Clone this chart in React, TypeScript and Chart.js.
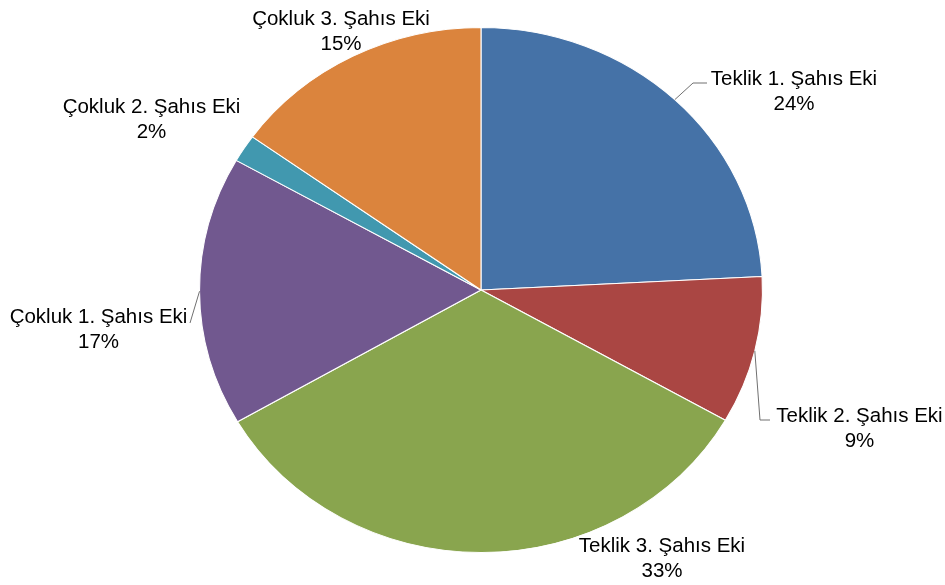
import React, { useEffect, useRef } from "react";
import { Chart, registerables } from "chart.js";

Chart.register(...registerables);

const categories = [
  "Teklik 1. Şahıs Eki",
  "Teklik 2. Şahıs Eki",
  "Teklik 3. Şahıs Eki",
  "Çokluk 1. Şahıs Eki",
  "Çokluk 2. Şahıs Eki",
  "Çokluk 3. Şahıs Eki",
];
const shares = [24.2, 9.1, 33.4, 16.6, 1.7, 15.1];
const colors = ["#4572A7", "#AA4643", "#89A54E", "#71588F", "#4198AF", "#DB843D"];

// label anchors (centre of text, first baseline) relative to pie centre, in px
const labelOffsets = [
  [313, -205],
  [378.5, 132],
  [181, 262],
  [-382.5, 33],
  [-329.5, -177],
  [-140, -265],
];
// leader line points (after the arc-edge start) relative to pie centre
const leaderPoints: number[][][] = [
  [[212, -207], [226, -207]],
  [[279, 130], [289, 130]],
  [],
  [[-291, 33]],
  [],
  [],
];

const SX = 282 / 263;
const FONT = '20.5px "Liberation Sans", Arial, sans-serif';
const LINE_GAP = 25;

const ellipsePlugin = {
  id: "ellipse",
  beforeDatasetsDraw(chart: any) {
    const meta = chart.getDatasetMeta(0);
    const cx = meta.data[0].x;
    const ctx = chart.ctx;
    ctx.save();
    ctx.translate(cx, 0);
    ctx.scale(SX, 1);
    ctx.translate(-cx, 0);
  },
  afterDatasetsDraw(chart: any) {
    chart.ctx.restore();
  },
};

const labelPlugin = {
  id: "pieLabels",
  afterDraw(chart: any) {
    const ctx = chart.ctx;
    const meta = chart.getDatasetMeta(0);
    const data = chart.data.datasets[0].data as number[];
    const total = data.reduce((a, b) => a + b, 0);
    ctx.save();
    meta.data.forEach((arc: any, i: number) => {
      const cx = arc.x;
      const cy = arc.y;
      const r = arc.outerRadius;
      const mid = (arc.startAngle + arc.endAngle) / 2;
      const pts = leaderPoints[i];
      if (pts.length) {
        ctx.strokeStyle = "#707070";
        ctx.lineWidth = 1;
        ctx.beginPath();
        ctx.moveTo(cx + Math.cos(mid) * r * SX, cy + Math.sin(mid) * r);
        pts.forEach((p) => ctx.lineTo(cx + p[0], cy + p[1]));
        ctx.stroke();
      }
      const [dx, dy] = labelOffsets[i];
      ctx.fillStyle = "#000";
      ctx.font = FONT;
      ctx.textAlign = "center";
      ctx.textBaseline = "alphabetic";
      ctx.fillText(categories[i], cx + dx, cy + dy);
      ctx.fillText(Math.round((data[i] / total) * 100) + "%", cx + dx, cy + dy + LINE_GAP);
    });
    ctx.restore();
  },
};

export default function App() {
  const ref = useRef<HTMLCanvasElement>(null);
  useEffect(() => {
    if (!ref.current) return;
    const chart = new Chart(ref.current, {
      type: "pie",
      data: {
        labels: categories,
        datasets: [
          {
            data: shares,
            backgroundColor: colors,
            borderColor: "#ffffff",
            borderWidth: 1,
          },
        ],
      },
      options: {
        responsive: false,
        animation: false,
        layout: { padding: { top: 27, bottom: 32, left: 218, right: 201 } },
        plugins: { legend: { display: false }, tooltip: { enabled: false } },
      },
      plugins: [ellipsePlugin, labelPlugin],
    });
    return () => chart.destroy();
  }, []);
  return (
    <div style={{ position: "fixed", left: 0, top: 0, width: 945, height: 585, background: "#fff" }}>
      <canvas ref={ref} width={945} height={585} />
    </div>
  );
}
